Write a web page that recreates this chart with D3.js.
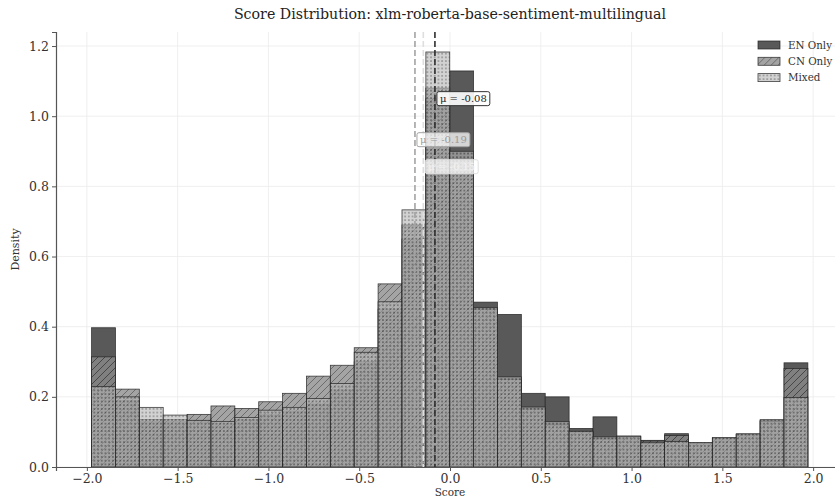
<!DOCTYPE html>
<html>
<head>
<meta charset="utf-8">
<script src="https://cdn.jsdelivr.net/npm/d3@7"></script>
<style>
    body { margin: 0; background: #fff; }
    text { font-family: "DejaVu Serif", serif; }
</style>
</head>
<body>
<div class="chart"></div>
<script>
const title = "Score Distribution: xlm-roberta-base-sentiment-multilingual"
const seriesNames = ["EN Only", "CN Only", "Mixed"]
const binStart = -1.974
const binWidth = 0.1315
const enValues = [0.397, 0.19, 0.13, 0.13, 0.13, 0.125, 0.135, 0.15, 0.16, 0.18, 0.22, 0.30, 0.45, 0.65, 1.05,
    1.129, 0.47, 0.435, 0.21, 0.20, 0.11, 0.143, 0.088, 0.076, 0.095, 0.068, 0.082, 0.093, 0.133, 0.297]
const cnValues = [0.314, 0.222, 0.135, 0.135, 0.15, 0.174, 0.167, 0.186, 0.21, 0.259, 0.29, 0.34, 0.522, 0.69, 1.08,
    0.88, 0.45, 0.25, 0.165, 0.12, 0.10, 0.08, 0.086, 0.074, 0.09, 0.068, 0.082, 0.093, 0.13, 0.281]
const mixedValues = [0.229, 0.20, 0.17, 0.148, 0.133, 0.13, 0.141, 0.162, 0.17, 0.195, 0.238, 0.327, 0.471, 0.733, 1.183,
    0.90, 0.455, 0.257, 0.171, 0.13, 0.102, 0.086, 0.088, 0.069, 0.073, 0.07, 0.084, 0.095, 0.135, 0.198]
const meanValues = [-0.083, -0.193, -0.147]
const meanLabelY = [1.05, 0.933, 0.856]
const xTicks = [-2.0, -1.5, -1.0, -0.5, 0.0, 0.5, 1.0, 1.5, 2.0]
const yTicks = [0.0, 0.2, 0.4, 0.6, 0.8, 1.0, 1.2]

const width = 835,
    height = 499,
    margin = { top: 32, right: -9, bottom: 32, left: 56 }

const svg = d3.select(".chart").append("svg")
    .attr("width", width)
    .attr("height", height)

const x = d3.scaleLinear().domain([-2.17, 2.17]).range([margin.left, width - margin.right])
const y = d3.scaleLinear().domain([0, 1.24]).range([height - margin.bottom, margin.top])

// patterns for hatched / dotted series
const defs = svg.append("defs")
const hatch = defs.append("pattern")
    .attr("id", "hatch")
    .attr("patternUnits", "userSpaceOnUse")
    .attr("width", 7).attr("height", 7)
hatch.append("rect").attr("width", 7).attr("height", 7).attr("fill", "#8b8b8b")
hatch.append("path")
    .attr("d", "M-1,8 L8,-1 M-1,1 L1,-1 M6,8 L8,6")
    .attr("stroke", "#3a3a3a").attr("stroke-width", 0.9)

const dots = defs.append("pattern")
    .attr("id", "dots")
    .attr("patternUnits", "userSpaceOnUse")
    .attr("width", 3.7).attr("height", 3.7)
dots.append("rect").attr("width", 3.7).attr("height", 3.7).attr("fill", "#b6b6b6")
dots.append("circle").attr("cx", 1.85).attr("cy", 1.85).attr("r", 0.85).attr("fill", "#404040")

const series = [
    { name: seriesNames[0], values: enValues, fill: "#595959", opacity: 1, line: "#2e2e2e" },
    { name: seriesNames[1], values: cnValues, fill: "url(#hatch)", opacity: 0.78, line: "#a3a3a3" },
    { name: seriesNames[2], values: mixedValues, fill: "url(#dots)", opacity: 0.62, line: "#dedede" }
]

// grid
svg.append("g").selectAll("line")
    .data(xTicks)
    .enter().append("line")
    .attr("x1", d => x(d)).attr("x2", d => x(d))
    .attr("y1", y.range()[1]).attr("y2", y.range()[0])
    .attr("stroke", "#ebebeb").attr("stroke-width", 0.8)
svg.append("g").selectAll("line")
    .data(yTicks)
    .enter().append("line")
    .attr("x1", x.range()[0]).attr("x2", x.range()[1])
    .attr("y1", d => y(d)).attr("y2", d => y(d))
    .attr("stroke", "#ebebeb").attr("stroke-width", 0.8)

// bars
series.forEach((s) => {
    svg.append("g")
        .attr("class", "bars")
        .selectAll("rect")
        .data(s.values)
        .enter().append("rect")
        .attr("x", (d, i) => x(binStart + i * binWidth))
        .attr("width", (d, i) => x(binStart + (i + 1) * binWidth) - x(binStart + i * binWidth))
        .attr("y", d => y(d))
        .attr("height", d => y(0) - y(d))
        .attr("fill", s.fill)
        .attr("fill-opacity", s.opacity)
        .attr("stroke", "#222")
        .attr("stroke-opacity", 0.85)
        .attr("stroke-width", 0.8)
})

// mean lines
series.forEach((s, i) => {
    svg.append("line")
        .attr("x1", x(meanValues[i])).attr("x2", x(meanValues[i]))
        .attr("y1", y.range()[1]).attr("y2", y.range()[0])
        .attr("stroke", s.line)
        .attr("stroke-width", 1.6)
        .attr("stroke-dasharray", "6,3")
})

// mean labels
series.forEach((s, i) => {
    const g = svg.append("g")
        .attr("transform", `translate(${x(meanValues[i]) + 2},${y(meanLabelY[i])})`)
    const label = g.append("text")
        .attr("x", 3)
        .attr("dy", "0.35em")
        .attr("font-size", 10)
        .attr("fill", i === 0 ? "#222" : i === 1 ? "#9a9a9a" : "#f2f2f2")
        .text(`μ = ${meanValues[i].toFixed(2)}`)
    const bb = label.node().getBBox()
    g.insert("rect", "text")
        .attr("x", bb.x - 3).attr("y", bb.y - 1.5)
        .attr("width", bb.width + 6).attr("height", bb.height + 3)
        .attr("rx", 2)
        .attr("fill", "#fff").attr("fill-opacity", i === 0 ? 0.9 : 0.75)
        .attr("stroke", i === 0 ? "#333" : s.line)
        .attr("stroke-width", 1)
})

// axes
const xAxis = d3.axisBottom(x).tickValues(xTicks).tickFormat(d3.format(".1f")).tickSize(4).tickPadding(3)
const yAxis = d3.axisLeft(y).tickValues(yTicks).tickFormat(d3.format(".1f")).tickSize(4).tickPadding(3)

const gx = svg.append("g")
    .attr("transform", `translate(0,${y(0)})`)
    .call(xAxis)
const gy = svg.append("g")
    .attr("transform", `translate(${x.range()[0]},0)`)
    .call(yAxis)
;[gx, gy].forEach((g) => {
    g.select(".domain").attr("stroke", "#555").attr("stroke-width", 1.2)
    g.selectAll(".tick line").attr("stroke", "#555")
    g.selectAll(".tick text").attr("font-family", "DejaVu Serif").attr("font-size", 12.5).attr("fill", "#333")
})

svg.append("text")
    .attr("x", x(0))
    .attr("y", 19)
    .attr("text-anchor", "middle")
    .attr("font-size", 14.2)
    .attr("fill", "#222")
    .text(title)

svg.append("text")
    .attr("x", x(0))
    .attr("y", 496)
    .attr("text-anchor", "middle")
    .attr("font-size", 10.5)
    .attr("fill", "#333")
    .text("Score")

svg.append("text")
    .attr("transform", `translate(19,${(y(0) + y.range()[1]) / 2}) rotate(-90)`)
    .attr("text-anchor", "middle")
    .attr("font-size", 11)
    .attr("fill", "#333")
    .text("Density")

// legend
const legend = svg.append("g")
    .attr("transform", "translate(758,41)")
const items = legend.selectAll("g")
    .data(series)
    .enter().append("g")
    .attr("transform", (d, i) => `translate(0,${i * 16.3})`)
items.append("rect")
    .attr("width", 22).attr("height", 8)
    .attr("fill", d => d.fill)
    .attr("fill-opacity", d => d.opacity)
    .attr("stroke", "#222").attr("stroke-opacity", 0.85).attr("stroke-width", 0.8)
items.append("text")
    .attr("x", 30).attr("y", 4).attr("dy", "0.35em")
    .attr("font-size", 10.3)
    .attr("fill", "#333")
    .text(d => d.name)
</script>
</body>
</html>
